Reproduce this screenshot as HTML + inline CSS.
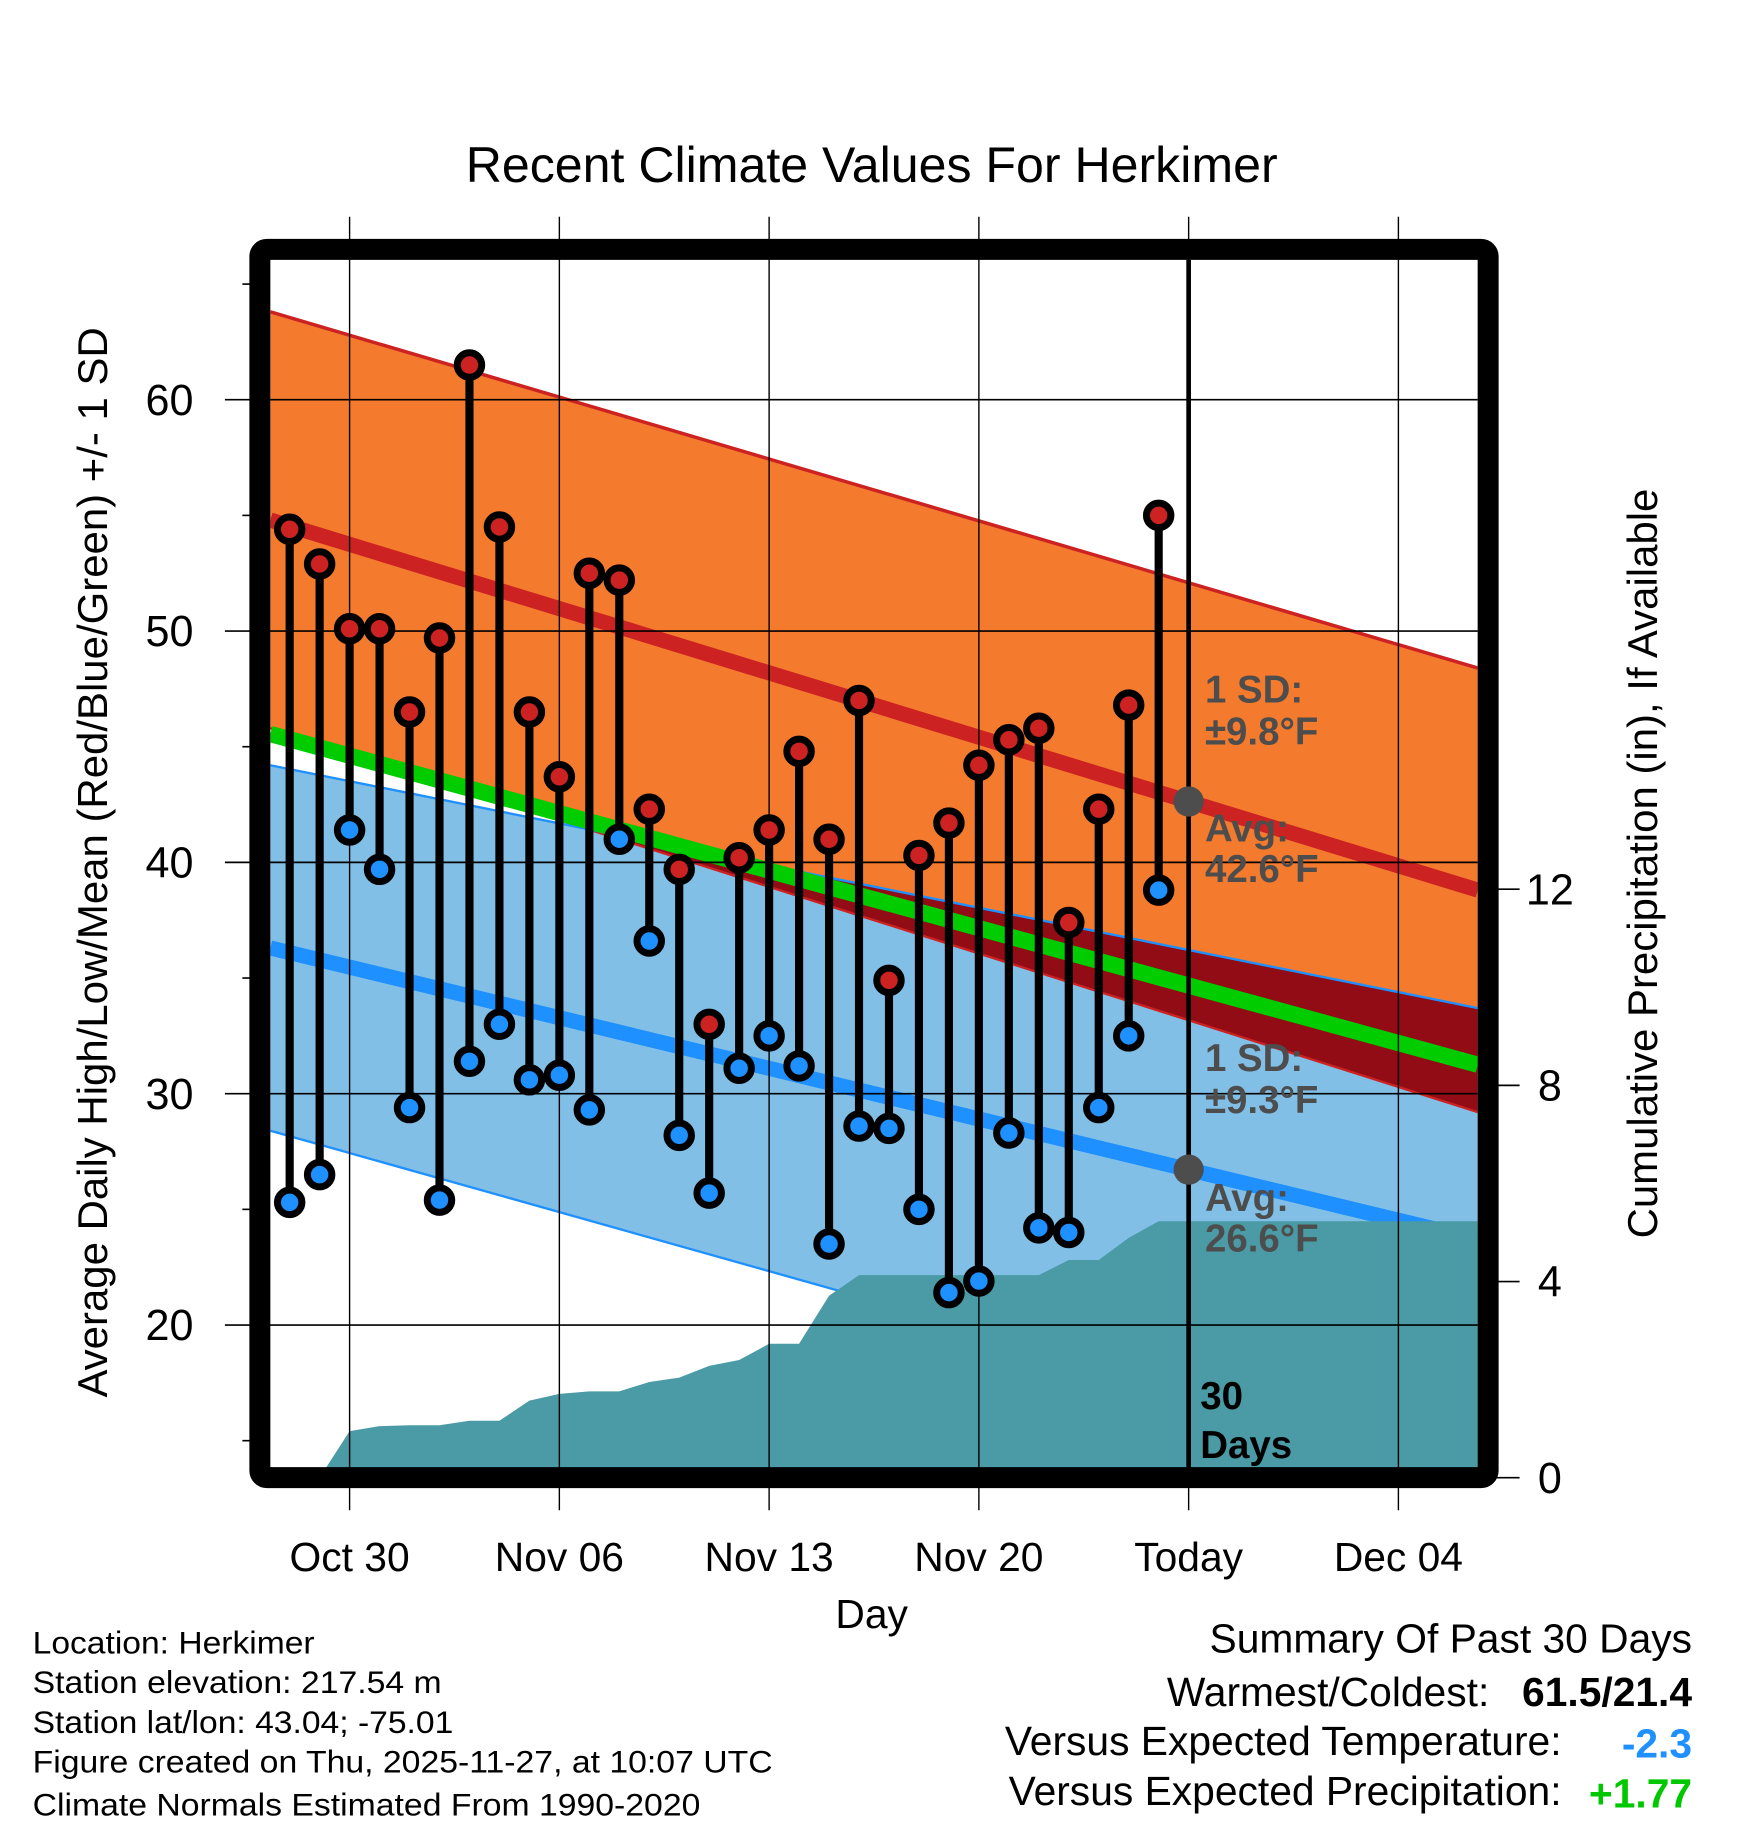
<!DOCTYPE html>
<html><head><meta charset="utf-8"><style>
html,body{margin:0;padding:0;background:#fff;}
svg{display:block;font-family:"Liberation Sans",Arial,sans-serif;}
</style></head><body>
<svg id="chart" width="1748" height="1828" viewBox="0 0 1500 1568.6" xmlns="http://www.w3.org/2000/svg">
<rect x="0" y="0" width="1500" height="1568.6" fill="#fff"/>
<g id="plot"></g>
<text x="748" y="156" font-size="43" text-anchor="middle">Recent Climate Values For Herkimer</text>
<text x="748" y="1397" font-size="35" text-anchor="middle">Day</text>
<text transform="translate(92,740) rotate(-90)" font-size="36" text-anchor="middle">Average Daily High/Low/Mean (Red/Blue/Green) +/- 1 SD</text>
<text transform="translate(1422,741) rotate(-90)" font-size="36" text-anchor="middle">Cumulative Precipitation (in), If Available</text>
<g font-size="27">
<text x="28" y="1419" textLength="242" lengthAdjust="spacingAndGlyphs">Location: Herkimer</text>
<text x="28" y="1453" textLength="351" lengthAdjust="spacingAndGlyphs">Station elevation: 217.54 m</text>
<text x="28" y="1487" textLength="361" lengthAdjust="spacingAndGlyphs">Station lat/lon: 43.04; -75.01</text>
<text x="28" y="1521" textLength="635" lengthAdjust="spacingAndGlyphs">Figure created on Thu, 2025-11-27, at 10:07 UTC</text>
<text x="28" y="1558" textLength="573" lengthAdjust="spacingAndGlyphs">Climate Normals Estimated From 1990-2020</text>
</g>
<g font-size="35" text-anchor="end">
<text x="1452" y="1418">Summary Of Past 30 Days</text>
<text x="1278" y="1464">Warmest/Coldest:</text>
<text x="1452" y="1464" font-weight="bold">61.5/21.4</text>
<text x="1340" y="1506">Versus Expected Temperature:</text>
<text x="1452" y="1508" font-weight="bold" fill="#1e90ff">-2.3</text>
<text x="1340" y="1549">Versus Expected Precipitation:</text>
<text x="1452" y="1551" font-weight="bold" fill="#00c800">+1.77</text>
</g>
</svg>
<script>
// ---- data ----
const days = ["Oct 28","Oct 29","Oct 30","Oct 31","Nov 01","Nov 02","Nov 03","Nov 04","Nov 05","Nov 06","Nov 07","Nov 08","Nov 09","Nov 10","Nov 11","Nov 12","Nov 13","Nov 14","Nov 15","Nov 16","Nov 17","Nov 18","Nov 19","Nov 20","Nov 21","Nov 22","Nov 23","Nov 24","Nov 25","Nov 26"];
const highs = [54.4,52.9,50.1,50.1,46.5,49.7,61.5,54.5,46.5,43.7,52.5,52.2,42.3,39.7,33.0,40.2,41.4,44.8,41.0,47.0,34.9,40.3,41.7,44.2,45.3,45.8,37.4,42.3,46.8,55.0];
const lows = [25.3,26.5,41.4,39.7,29.4,25.4,31.4,33.0,30.6,30.8,29.3,41.0,36.6,28.2,25.7,31.1,32.5,31.2,23.5,28.6,28.5,25.0,21.4,21.9,28.3,24.2,24.0,29.4,32.5,38.8];
const precip = [0,0,0.95,1.05,1.07,1.07,1.16,1.16,1.57,1.71,1.76,1.76,1.95,2.04,2.28,2.40,2.73,2.73,3.71,4.13,4.13,4.13,4.13,4.13,4.13,4.13,4.44,4.44,4.89,5.23];
const normDays = [-2.645, 37.65];
const normHigh = [54.8, 38.8];
const normHighSD = [9.0, 9.6];
const normLow = [36.3, 23.7];
const normLowSD = [7.9, 10.0];
const xTickLabels = ["Oct 30","Nov 06","Nov 13","Nov 20","Today","Dec 04"];
const xTickDays = [0,7,14,21,28,35];
const yTicks = [20,30,40,50,60];
const yMinor = [15,25,35,45,55,65];
const pTicks = [0,4,8,12];
const todayDay = 28;
const firstDay = -2;

// ---- scales ----
const X0=232, X1=1268, Y0=223, Y1=1260;
const xs = d => 300 + d*180/7;
const ys = v => 343 + (60-v)*19.85;
const py = p => 1268 - p*42.08;
const NS="http://www.w3.org/2000/svg";
const plotG=document.getElementById('plot');
function mk(tag,attrs,parent){const e=document.createElementNS(NS,tag);for(const k in attrs)e.setAttribute(k,attrs[k]);(parent||plotG).appendChild(e);return e;}
function lerp(a,d){return a[0]+(a[1]-a[0])*(d-normDays[0])/(normDays[1]-normDays[0]);}

const defs=mk('defs',{});
const cp=mk('clipPath',{id:'clip'},defs);
mk('rect',{x:X0,y:Y0,width:X1-X0,height:Y1-Y0},cp);
const gC=mk('g',{'clip-path':'url(#clip)'});



const dL=normDays[0], dR=normDays[1];
const hiU=d=>lerp(normHigh,d)+lerp(normHighSD,d), hiL=d=>lerp(normHigh,d)-lerp(normHighSD,d);
const loU=d=>lerp(normLow,d)+lerp(normLowSD,d), loL=d=>lerp(normLow,d)-lerp(normLowSD,d);
function band(fu,fl,fill,name){const e=mk('polygon',{points:`${xs(dL)},${ys(fu(dL))} ${xs(dR)},${ys(fu(dR))} ${xs(dR)},${ys(fl(dR))} ${xs(dL)},${ys(fl(dL))}`,fill:fill},gC);

return e;}
function line(f,stroke,w,name){const e=mk('line',{x1:xs(dL),y1:ys(f(dL)),x2:xs(dR),y2:ys(f(dR)),stroke:stroke,'stroke-width':w},gC);

}
band(hiU,hiL,'#f47a2e','high-sd-band');
band(loU,loL,'#82bfe6','low-sd-band');
const ovl=[];for(let i=0;i<=200;i++){const d=dL+(dR-dL)*i/200;const t=Math.min(hiU(d),loU(d)),b=Math.max(hiL(d),loL(d));ovl.push([d,t,b]);}
const ovTop=ovl.map(o=>`${xs(o[0])},${ys(Math.max(o[1],o[2]))}`), ovBot=ovl.slice().reverse().map(o=>`${xs(o[0])},${ys(o[2])}`);
const ov=mk('polygon',{points:ovTop.concat(ovBot).join(' '),fill:'#910c14'},gC);


line(hiU,'#cc2222',3,'high-sd-upper-line');
line(hiL,'#cc2222',2,'high-sd-lower-line');
line(loU,'#1e90ff',2,'low-sd-upper-line');
line(loL,'#1e90ff',2,'low-sd-lower-line');
line(d=>(lerp(normHigh,d)+lerp(normLow,d))/2,'#00cc00',14,'mean-normal-line');
line(d=>lerp(normHigh,d),'#cc2222',13,'high-normal-line');
line(d=>lerp(normLow,d),'#1e90ff',13,'low-normal-line');
let pts=[`${xs(firstDay)},${py(0)}`];
precip.forEach((p,i)=>pts.push(`${xs(firstDay+i)},${py(p)}`));
pts.push(`${X1+5},${py(precip[precip.length-1])}`,`${X1+5},${py(0)}`);
const pr=mk('polygon',{points:pts.join(' '),fill:'#4a9ba5'},gC);



xTickDays.forEach((d,i)=>{const gl=mk('line',{x1:xs(d),y1:186,x2:xs(d),y2:1296,stroke:'#000','stroke-width':1.2});


const t=mk('text',{x:xs(d),y:1348,'font-size':35,'text-anchor':'middle'});t.textContent=xTickLabels[i];

});
yTicks.forEach(v=>{const gl=mk('line',{x1:193,y1:ys(v),x2:X1,y2:ys(v),stroke:'#000','stroke-width':1.4});


const t=mk('text',{x:166,y:ys(v)+13,'font-size':37,'text-anchor':'end'});t.textContent=v;

});
yMinor.forEach(v=>{const m=mk('line',{x1:208,y1:ys(v),x2:216,y2:ys(v),stroke:'#000','stroke-width':1.4});

});
pTicks.forEach(p=>{const m=mk('line',{x1:1280,y1:py(p),x2:1304,y2:py(p),stroke:'#000','stroke-width':1.4});


const t=mk('text',{x:1330,y:py(p)+13,'font-size':37,'text-anchor':'middle'});t.textContent=p;

});

highs.forEach((h,i)=>{const d=firstDay+i;
const s=mk('line',{x1:xs(d),y1:ys(h),x2:xs(d),y2:ys(lows[i]),stroke:'#000','stroke-width':7});


const ch=mk('circle',{cx:xs(d),cy:ys(h),r:10.5,fill:'#cc2222',stroke:'#000','stroke-width':6});


const cl=mk('circle',{cx:xs(d),cy:ys(lows[i]),r:10.5,fill:'#1e90ff',stroke:'#000','stroke-width':6});

});

const tl=mk('line',{x1:xs(todayDay),y1:Y0,x2:xs(todayDay),y2:Y1,stroke:'#000','stroke-width':4});


const gh=mk('circle',{cx:xs(todayDay),cy:ys(lerp(normHigh,todayDay)),r:13,fill:'#4d4d4d'});


const gl2=mk('circle',{cx:xs(todayDay),cy:ys(lerp(normLow,todayDay)),r:13,fill:'#4d4d4d'});



const ann=[["1 SD:",603,'high-sd-label'],["±9.8°F",639,'high-sd-value'],["Avg:",722,'high-avg-label'],["42.6°F",757,'high-avg-value'],["1 SD:",919,'low-sd-label'],["±9.3°F",955,'low-sd-value'],["Avg:",1039,'low-avg-label'],["26.6°F",1074,'low-avg-value']];
ann.forEach(a=>{const t=mk('text',{x:1034,y:a[1],'font-size':33,'font-weight':'bold',fill:'#4d4d4d'});t.textContent=a[0];

});
[["30",1209],["Days",1251]].forEach(a=>{const t=mk('text',{x:1030,y:a[1],'font-size':33,'font-weight':'bold',fill:'#000'});t.textContent=a[0];

});

const fr=mk('rect',{x:223,y:214,width:1054,height:1054,rx:6,fill:'none',stroke:'#000','stroke-width':18});


</script>
</body></html>
